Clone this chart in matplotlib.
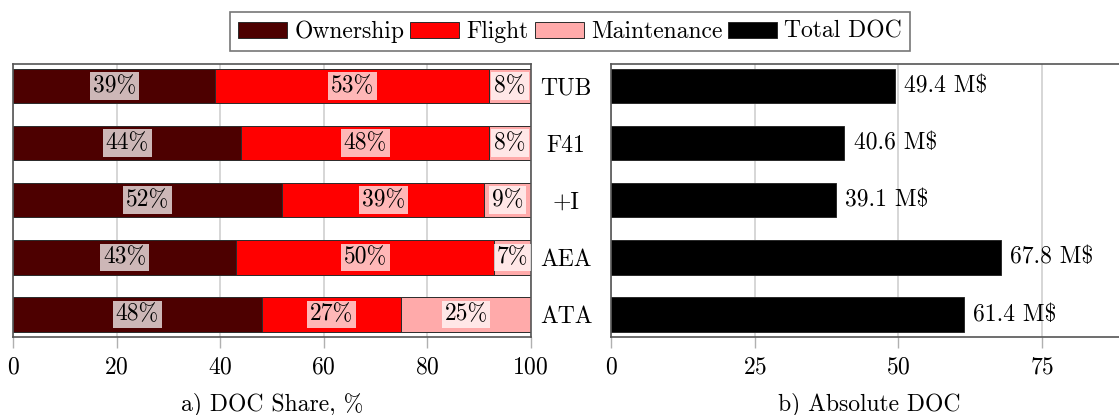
import matplotlib
matplotlib.use("Agg")
import matplotlib.pyplot as plt
from matplotlib.patches import Patch
import numpy as np

plt.rcParams['font.family'] = ['cmr10', 'DejaVu Serif']
plt.rcParams['axes.formatter.use_mathtext'] = True
plt.rcParams['mathtext.fontset'] = 'cm'

# Aircraft configurations and their direct operating cost breakdown
configs = ['TUB', 'F41', '+I', 'AEA', 'ATA']
ownership = [39, 44, 52, 43, 48]
flight = [53, 48, 39, 50, 27]
maintenance = [8, 8, 9, 7, 25]
total_doc = [49.4, 40.6, 39.1, 67.8, 61.4]

share_ticks = [0, 20, 40, 60, 80, 100]
abs_ticks = [0, 25, 50, 75]

c_own = '#4d0000'
c_fl = '#ff0000'
c_mt = '#ffaaaa'
c_tot = '#000000'
edge = '#2a2a2a'
spine_c = '#555555'
grid_c = '#cfcfcf'
fs = 17

W, H = 1119, 415
fig = plt.figure(figsize=(W / 100, H / 100), dpi=100)

ax_w = 517.4 / W
ax_h = 272.7 / H
ax_b = (H - 336.7) / H
ax1 = fig.add_axes([13.3 / W, ax_b, ax_w, ax_h])
ax2 = fig.add_axes([611.0 / W, ax_b, ax_w, ax_h])

y = np.arange(len(configs))
bh = 0.6

own = np.array(ownership, float)
fl = np.array(flight, float)
mt = np.array(maintenance, float)

segments = [(own, np.zeros_like(own), c_own),
            (fl, own, c_fl),
            (mt, own + fl, c_mt)]
for vals, left, col in segments:
    bars = ax1.barh(y, vals, left=left, height=bh, color=col,
                    edgecolor=edge, linewidth=0.7, zorder=2)
    for rect, v in zip(bars, vals):
        cx = rect.get_x() + rect.get_width() / 2
        cy = rect.get_y() + rect.get_height() / 2
        ax1.text(cx, cy, f'{v:.0f}%', ha='center', va='center',
                 fontsize=fs, zorder=4,
                 bbox=dict(boxstyle='square,pad=0.12', fc='white',
                           ec='none', alpha=0.72))

bars2 = ax2.barh(y, total_doc, height=bh, color=c_tot, edgecolor=edge,
                 linewidth=0.7, zorder=2)
for rect, v in zip(bars2, total_doc):
    ax2.text(rect.get_width() + 1.6, rect.get_y() + rect.get_height() / 2,
             f'{v:.1f} M$', ha='left', va='center', fontsize=fs, zorder=4)

for ax in (ax1, ax2):
    ax.set_ylim(len(configs) - 1 + 0.39, -0.39)
    ax.grid(axis='x', color=grid_c, linewidth=1.2, zorder=0)
    ax.set_axisbelow(True)
    for s in ax.spines.values():
        s.set_color(spine_c)
        s.set_linewidth(1.2)
    ax.tick_params(axis='x', direction='out', length=8, width=1.0,
                   color='#b0b0b0', labelsize=fs, pad=6)

ax1.set_xlim(0, 100)
ax1.set_xticks(share_ticks)
ax1.set_yticks(y)
ax1.set_yticklabels(configs)
ax1.yaxis.tick_right()
ax1.tick_params(axis='y', length=0, labelsize=fs, pad=25.5)
for lab in ax1.get_yticklabels():
    lab.set_ha('center')

ax2.set_xlim(0, 90)
ax2.set_xticks(abs_ticks)
ax2.set_yticks([])

ax1.set_xlabel('a) DOC Share, %', fontsize=fs, labelpad=10)
ax2.set_xlabel('b) Absolute DOC', fontsize=fs, labelpad=10)

handles = [Patch(facecolor=c_own, edgecolor=edge, linewidth=0.7, label='Ownership'),
           Patch(facecolor=c_fl, edgecolor=edge, linewidth=0.7, label='Flight'),
           Patch(facecolor=c_mt, edgecolor=edge, linewidth=0.7, label='Maintenance'),
           Patch(facecolor=c_tot, edgecolor=edge, linewidth=0.7, label='Total DOC')]
leg = fig.legend(handles=handles, loc='center', bbox_to_anchor=(570 / W, 1 - 31.7 / H),
                 ncol=4, fontsize=fs, frameon=True, fancybox=False,
                 handlelength=2.08, handleheight=0.68, handletextpad=0.3,
                 columnspacing=0.25, borderpad=0.35, borderaxespad=0)
leg.get_frame().set_edgecolor(spine_c)
leg.get_frame().set_linewidth(1.2)

fig.savefig('out.png', dpi=100)
